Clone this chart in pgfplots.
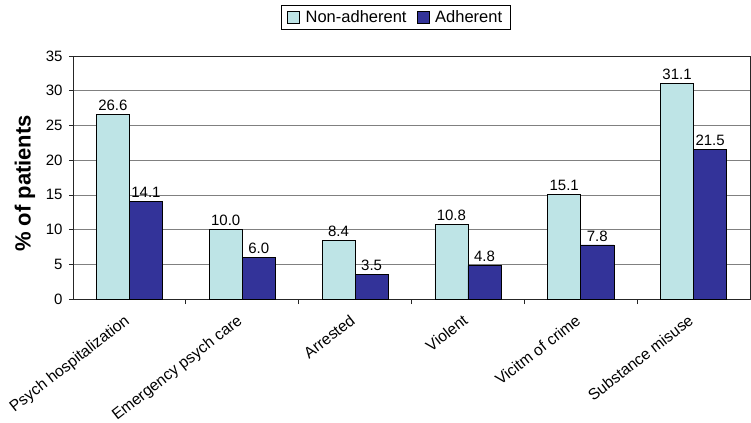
\documentclass[border=0pt]{standalone}
\usepackage{pgfplots}
\pgfplotsset{compat=1.18}
\usepackage{fontspec}
\setmainfont{Liberation Sans}
\definecolor{nonadh}{RGB}{190,228,230}
\definecolor{adh}{RGB}{51,51,153}
\begin{document}
\begin{tikzpicture}
\path[use as bounding box] (-73bp,-124bp) rectangle (678bp,299bp);
\begin{axis}[
  at={(0,0)}, anchor=south west,
  scale only axis, width=677bp, height=243bp,
  ybar=0pt, bar width=0.293,
  xmin=-0.5, xmax=5.5, ymin=0, ymax=35,
  ytick={0,5,...,35},
  ymajorgrids, grid style={black!50, line width=0.7pt},
  axis line style={black!85, line width=0.7pt},
  /pgf/number format/assume math mode=true,
  xtick={0,...,5},
  xticklabels={Psych hospitalization, Emergency psych care, Arrested, Violent, Vicitm of crime, Substance misuse},
  major x tick style={draw=none},
  minor xtick={0.5,1.5,...,4.5},
  tick pos=left,
  tick align=outside, major tick length=4bp, minor tick length=5bp,
  tick style={black!85, line width=0.7pt},
  xticklabel shift=9bp,
  x tick label style={rotate=38, anchor=north east, inner sep=1bp, xshift=-4.7bp, yshift=3.7bp, font=\fontsize{15.7bp}{18bp}\selectfont},
  y tick label style={font=\fontsize{15bp}{17bp}\selectfont, xshift=-3bp},
  ylabel={\bfseries\% of patients},
  ylabel style={at={(axis description cs:0,0.5)}, anchor=center, yshift=48bp, xshift=-6bp, font=\fontsize{22bp}{24bp}\selectfont},
  nodes near coords={\pgfmathprintnumber[fixed,fixed zerofill,precision=1,assume math mode=true]{\pgfplotspointmeta}},
  nodes near coords style={font=\fontsize{15bp}{17bp}\selectfont, black},
  legend columns=2,
  legend style={at={(axis description cs:0.4765,1)}, anchor=center, yshift=38.5bp, draw=black, line width=0.7pt, font=\fontsize{16.5bp}{18bp}\selectfont, inner xsep=6bp, inner ysep=3bp, /tikz/every odd column/.append style={column sep=4bp}, /tikz/every even column/.append style={column sep=8bp}},
  legend image code/.code={\draw[#1, line width=0.6pt] (0bp,-6bp) rectangle (12bp,6bp);},
]
\addplot[fill=nonadh, draw=black, line width=0.6pt] coordinates {(0,26.6) (1,10.0) (2,8.4) (3,10.8) (4,15.1) (5,31.1)};
\addplot[fill=adh, draw=black, line width=0.6pt] coordinates {(0,14.1) (1,6.0) (2,3.5) (3,4.8) (4,7.8) (5,21.5)};
\legend{Non-adherent, Adherent}
\end{axis}
\end{tikzpicture}
\end{document}
